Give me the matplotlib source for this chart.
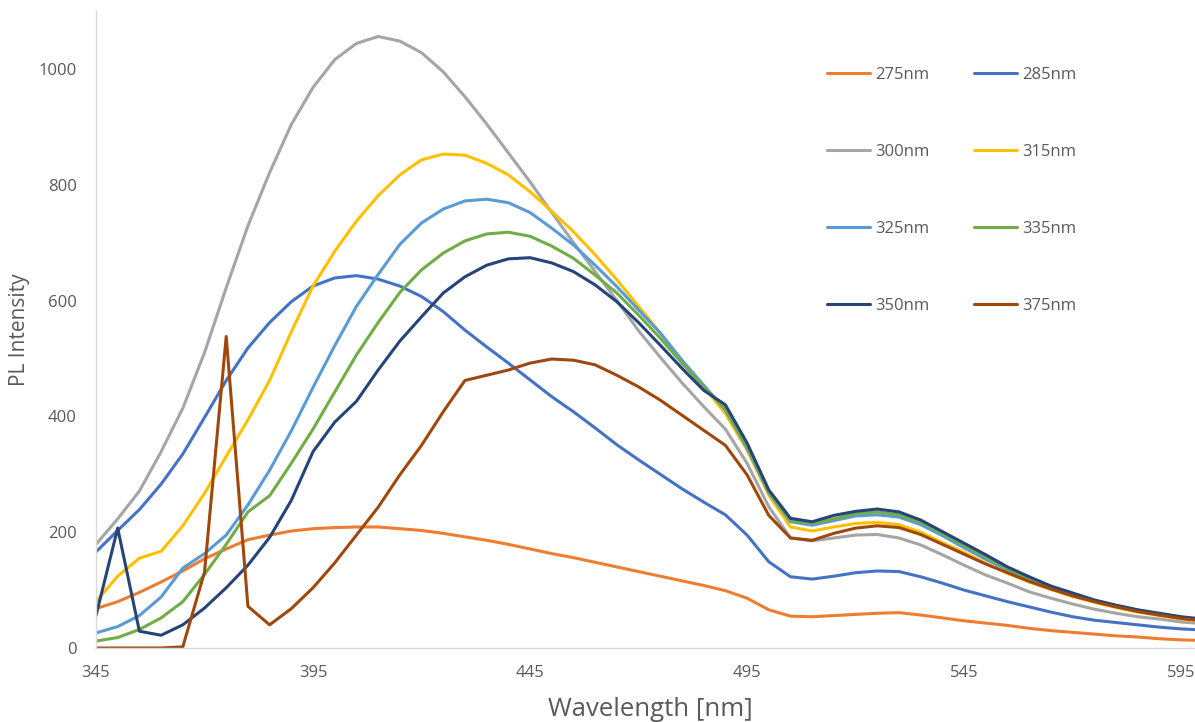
import matplotlib
matplotlib.use("Agg")
import matplotlib.pyplot as plt

# emission wavelength (nm), one point every 5 nm
wavelength = list(range(345, 601, 5))

# excitation wavelength labels
labels = ["275nm", "285nm", "300nm", "315nm", "325nm", "335nm", "350nm", "375nm"]
colors = ["#ED7D31", "#4472C4", "#A5A5A5", "#FFC000",
          "#5B9BD5", "#70AD47", "#264478", "#9E480E"]

ex275 = [68, 80, 96, 114, 133, 154, 171, 187, 195, 202,
         206, 208, 209, 209, 206, 203, 198, 192, 186, 179,
         171, 163, 156, 148, 140, 132, 124, 116, 108, 99,
         86, 66, 55, 54, 56, 58, 60, 61, 57, 52,
         47, 43, 39, 34, 30, 27, 24, 21, 19, 16,
         14, 13]
ex285 = [166, 203, 239, 283, 335, 398, 462, 518, 562, 598,
         625, 639, 643, 637, 625, 607, 581, 549, 520, 492,
         463, 434, 408, 380, 351, 325, 300, 275, 252, 230,
         195, 149, 123, 119, 124, 130, 133, 132, 123, 112,
         100, 90, 80, 71, 62, 54, 48, 44, 40, 36,
         33, 31]
ex300 = [179, 223, 271, 339, 414, 510, 622, 729, 821, 904,
         968, 1016, 1044, 1056, 1048, 1028, 995, 952, 905, 855,
         805, 752, 700, 650, 600, 548, 502, 458, 417, 378,
         319, 244, 190, 185, 190, 195, 196, 190, 178, 161,
         143, 126, 112, 97, 86, 76, 67, 60, 54, 50,
         45, 42]
ex315 = [80, 124, 155, 167, 211, 267, 331, 394, 462, 546,
         625, 685, 737, 781, 817, 843, 853, 851, 837, 817,
         788, 754, 719, 679, 636, 590, 544, 497, 451, 405,
         342, 264, 209, 202, 209, 215, 217, 213, 200, 182,
         165, 146, 129, 114, 101, 89, 79, 70, 62, 56,
         50, 46]
ex325 = [26, 37, 56, 88, 138, 163, 195, 247, 307, 375,
         450, 522, 590, 645, 697, 734, 758, 772, 775, 769,
         752, 725, 696, 661, 624, 584, 544, 497, 454, 411,
         345, 268, 218, 212, 220, 228, 230, 226, 213, 194,
         173, 153, 135, 118, 104, 92, 81, 72, 64, 57,
         52, 48]
ex335 = [12, 18, 32, 52, 80, 127, 179, 235, 263, 319,
         378, 442, 506, 562, 614, 653, 682, 703, 715, 718,
         711, 694, 673, 644, 613, 575, 535, 492, 451, 413,
         348, 270, 220, 215, 223, 232, 235, 230, 217, 198,
         177, 157, 137, 120, 105, 93, 82, 73, 65, 58,
         53, 49]
ex350 = [56, 207, 29, 22, 40, 69, 104, 143, 191, 255,
         339, 390, 426, 480, 530, 572, 613, 641, 661, 672,
         674, 665, 650, 627, 598, 562, 523, 483, 445, 420,
         354, 273, 224, 218, 229, 236, 240, 235, 221, 201,
         181, 161, 140, 123, 107, 95, 83, 74, 66, 60,
         54, 50]
ex375 = [0, 0, 0, 0, 2, 131, 538, 72, 40, 68,
         104, 147, 195, 243, 299, 350, 408, 462, 471, 480,
         492, 499, 497, 489, 471, 451, 428, 402, 376, 350,
         299, 229, 190, 186, 198, 207, 211, 208, 196, 179,
         162, 145, 130, 115, 102, 90, 80, 71, 63, 57,
         51, 47]

series = [ex275, ex285, ex300, ex315, ex325, ex335, ex350, ex375]

x_ticks = [345, 395, 445, 495, 545, 595]
y_ticks = [0, 200, 400, 600, 800, 1000]

plt.rcParams["font.family"] = ["Open Sans", "DejaVu Sans"]
grey = "#595959"

fig = plt.figure(figsize=(11.95, 7.22), dpi=100)
ax = fig.add_axes([96 / 1195, 74 / 722, 1099 / 1195, 637 / 722])

lines = []
for vals, lab, col in zip(series, labels, colors):
    ln, = ax.plot(wavelength, vals, color=col, lw=2.2, label=lab,
                  solid_joinstyle="round", solid_capstyle="round")
    lines.append(ln)

ax.set_xlim(345, 598.2)
ax.set_ylim(0, 1100)
ax.set_xticks(x_ticks)
ax.set_yticks(y_ticks)
ax.tick_params(length=0, labelsize=12, labelcolor=grey)
ax.tick_params(axis="x", pad=12)
ax.tick_params(axis="y", pad=14)

for side in ["top", "right"]:
    ax.spines[side].set_visible(False)
for side in ["left", "bottom"]:
    ax.spines[side].set_color("#D9D9D9")
    ax.spines[side].set_linewidth(1.0)

fig.text(650 / 1195, 1 - 710 / 722, "Wavelength [nm]", fontsize=18.5,
         color=grey, ha="center", va="center")
fig.text(20 / 1195, 1 - 330 / 722, "PL Intensity", fontsize=15,
         color=grey, ha="center", va="center", rotation=90)

# legend reads row by row: reorder so column-major fill matches
order = [0, 2, 4, 6, 1, 3, 5, 7]
ax.legend([lines[i] for i in order], [labels[i] for i in order],
          ncol=2, frameon=False, fontsize=12, labelcolor=grey,
          loc="upper left", bbox_to_anchor=(827 / 1195, 1 - 67 / 722),
          bbox_transform=fig.transFigure, borderpad=0, borderaxespad=0,
          handlelength=2.57, handletextpad=0.3, columnspacing=2.7,
          labelspacing=3.65)

fig.savefig("out.png", dpi=100)
